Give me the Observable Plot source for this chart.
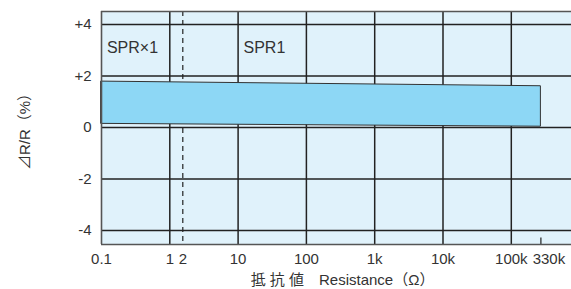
<!DOCTYPE html>
<html>
<head>
<meta charset="utf-8">
<script src="https://cdn.jsdelivr.net/npm/d3@7"></script>
<script src="https://cdn.jsdelivr.net/npm/@observablehq/plot@0.6"></script>
<style>
  html, body { margin: 0; padding: 0; background: #fff; }
  #chart svg { display: block; }
</style>
</head>
<body>
<div id="chart"></div>
<script>
// Data
const xTicks = [0.1, 1, 2, 10, 100, 1000, 10000, 100000, 330000];
const xTickLabels = ["0.1", "1", "2", "10", "100", "1k", "10k", "100k", "330k"];
const xGrid = [1, 10, 100, 1000, 10000, 100000];
const xDashed = [2];
const yTicks = [4, 2, 0, -2, -4];
const yTickLabels = ["+4", "+2", "0", "-2", "-4"];
const bandX = [0.1, 330000];
const bandLow = [0.14, 0.03];
const bandHigh = [1.78, 1.6];
const labels = ["SPR\u00d71", "SPR1"];
const labelX = [0.12, 12];
const labelY = [3.1, 3.1];

const band = bandX.map((x, i) => ({x, lo: bandLow[i], hi: bandHigh[i]}));
const notes = labels.map((t, i) => ({t, x: labelX[i], y: labelY[i]}));
const xTickData = xTicks.map((x, i) => ({x, t: xTickLabels[i]}));
const lastTick = xTickData.slice(-1);
const mainTicks = xTickData.slice(0, -1);

// Schematic log axis as in the original: decades evenly spaced, "2" and "330k" placed schematically
const W = 571, H = 289;
const mL = 101, mR = 0, mT = 11, mB = 45;
const dec = 68.3;
const xDomain = [0.1, 1, 2, 10, 100000, 330000, 930000];
const xRange = [mL, mL + dec, mL + dec + 13, mL + 2 * dec, mL + 6 * dec, mL + 6 * dec + 29.6, W - mR];
const yDomain = [-4.54, 4.5];

const font = "'Liberation Sans', Arial, Helvetica, sans-serif";
const mixed = "'Liberation Sans', 'Noto Sans CJK JP', sans-serif";
const gridColor = "#222";

const chart = Plot.plot({
  width: W,
  height: H,
  marginLeft: mL,
  marginRight: mR,
  marginTop: mT,
  marginBottom: mB,
  style: {fontFamily: font, fontSize: "15px", color: "#333", background: "#fff"},
  x: {type: "log", domain: xDomain, range: xRange, axis: null},
  y: {domain: yDomain, axis: null},
  marks: [
    Plot.frame({fill: "#e0f2fb"}),
    Plot.ruleY(yTicks, {stroke: gridColor, strokeWidth: 1.5}),
    Plot.ruleX(xGrid, {stroke: gridColor, strokeWidth: 1.5}),
    Plot.ruleX(xDashed, {stroke: gridColor, strokeWidth: 1.2, strokeDasharray: "5,4"}),
    Plot.areaY(band, {x: "x", y1: "lo", y2: "hi", fill: "#8dd7f5", stroke: "#333", strokeWidth: 1, curve: "linear"}),
    Plot.ruleX([330000], {y1: yDomain[0], y2: yDomain[0] + 0.25, stroke: gridColor, strokeWidth: 1.2}),
    Plot.ruleY([yDomain[1], yDomain[0]], {stroke: "#555", strokeWidth: 1.6}),
    Plot.ruleX([0.1], {stroke: "#555", strokeWidth: 1.6}),
    Plot.text(notes, {x: "x", y: "y", text: "t", textAnchor: "start", fontSize: 16, fill: "#333"}),
    Plot.axisY({ticks: yTicks, tickSize: 0, tickPadding: 10, fontSize: 15, tickFormat: (d) => yTickLabels[yTicks.indexOf(d)], label: null}),
    Plot.text(mainTicks, {x: "x", text: "t", frameAnchor: "bottom", textAnchor: "middle", lineAnchor: "middle", dy: 15, fontSize: 15, fill: "#333"}),
    Plot.text(lastTick, {x: "x", text: "t", frameAnchor: "bottom", textAnchor: "middle", lineAnchor: "middle", dy: 15, dx: 8, fontSize: 15, fill: "#333"}),
    Plot.text(["\u62b5 \u6297 \u5024\u3000Resistance\uff08\u03a9\uff09"], {frameAnchor: "bottom", textAnchor: "middle", lineAnchor: "middle", dy: 36, dx: 6, fontSize: 15, fill: "#333", fontFamily: mixed}),
    Plot.text(["\u22bfR/R\uff08%\uff09"], {frameAnchor: "left", textAnchor: "middle", lineAnchor: "middle", dx: -76, rotate: -90, fontSize: 15, fill: "#333", fontFamily: mixed})
  ]
});
document.getElementById("chart").appendChild(chart);
</script>
</body>
</html>
